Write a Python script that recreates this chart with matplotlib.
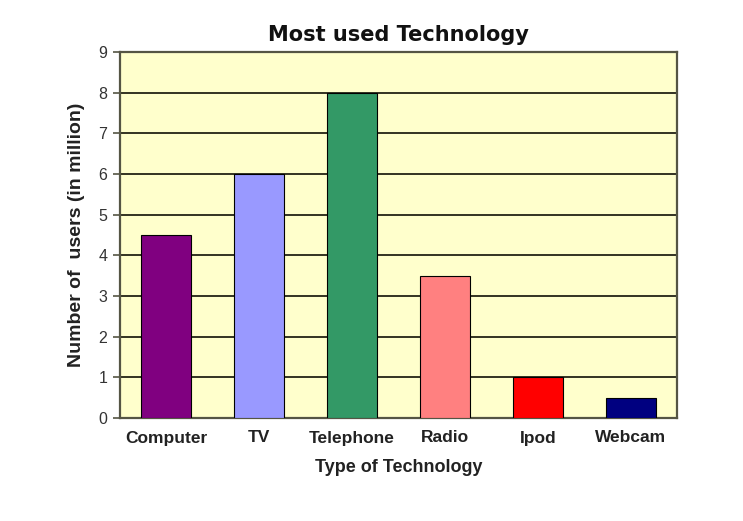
import matplotlib
matplotlib.use('Agg')
import matplotlib.pyplot as plt

categories = ['Computer', 'TV', 'Telephone', 'Radio', 'Ipod', 'Webcam']
users = [4.5, 6, 8, 3.5, 1, 0.5]
colors = ['#800080', '#9999FF', '#339966', '#FF8080', '#FF0000', '#000080']

plt.rcParams['font.family'] = ['Liberation Sans', 'DejaVu Sans']

fig = plt.figure(figsize=(7.43, 5.21), dpi=100)
ax = fig.add_axes([120/743, 1-418/521, 557/743, 366/521])
ax.set_facecolor('#FFFFCC')

ax.bar(range(len(categories)), users, width=0.54, color=colors,
       edgecolor='black', linewidth=0.8, zorder=3)

ax.set_xlim(-0.5, len(categories)-0.5)
ax.set_ylim(0, 9)
ax.set_yticks(range(10))
ax.yaxis.grid(True, color='#333322', linewidth=1.4, zorder=0)
ax.set_axisbelow(True)

for s in ax.spines.values():
    s.set_color('#555544')
    s.set_linewidth(1.6)

ax.set_xticks(range(len(categories)))
ax.set_xticklabels(categories, fontsize=12.5, fontweight='bold', color='#222222')
ax.tick_params(axis='x', length=0, pad=9)
ax.tick_params(axis='y', length=5, width=1.2, color='#555544', labelsize=11.5,
               labelcolor='#333333', pad=4)

ax.set_xlabel('Type of Technology', fontsize=13, fontweight='bold',
              color='#222222', labelpad=10)
ax.set_ylabel('Number of  users (in million)', fontsize=14, fontweight='bold',
              color='#222222', labelpad=10)
ax.set_title('Most used Technology', fontsize=15, fontweight='bold',
             family='DejaVu Sans', color='#111111', pad=8)

fig.savefig('out.png', dpi=100, facecolor='white')
